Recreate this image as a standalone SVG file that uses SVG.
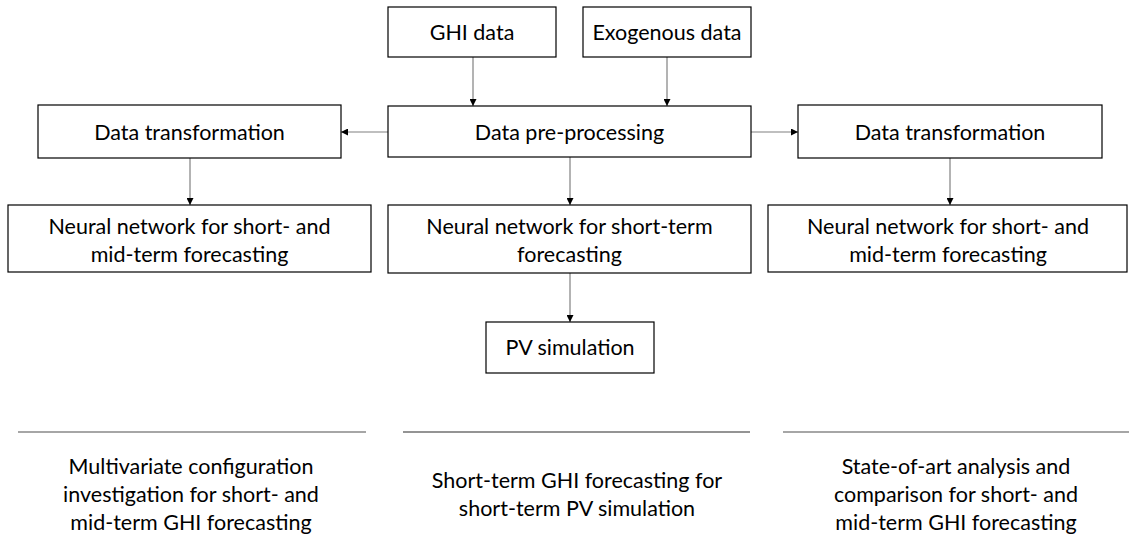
<svg xmlns="http://www.w3.org/2000/svg" width="1129" height="537" viewBox="0 0 1129 537">
<defs>
<marker id="ah" viewBox="0 0 10 10" refX="10" refY="5" markerWidth="7" markerHeight="7" markerUnits="userSpaceOnUse" orient="auto">
<path d="M0,0 L10,5 L0,10 z" fill="#000"/>
</marker>
<style>
.box{fill:#fff;stroke:#000;stroke-width:1.2}
.t{font-family:Lato,"Liberation Sans",sans-serif;font-size:21.5px;fill:#000;text-anchor:middle}
.c{stroke:#808080;stroke-width:1.2;fill:none;marker-end:url(#ah)}
.sep{stroke:#a6a6a6;stroke-width:2}
</style>
</defs>
<rect width="1129" height="537" fill="#fff"/>
<g id="connectors">
<line class="c" x1="473" y1="57" x2="473" y2="106"/>
<line class="c" x1="667" y1="57" x2="667" y2="106"/>
<line class="c" x1="388" y1="132" x2="341" y2="132"/>
<line class="c" x1="751" y1="132" x2="798" y2="132"/>
<line class="c" x1="190" y1="158" x2="190" y2="205"/>
<line class="c" x1="570" y1="157" x2="570" y2="205"/>
<line class="c" x1="950" y1="158" x2="950" y2="205"/>
<line class="c" x1="570" y1="273" x2="570" y2="322"/>
</g>
<g id="ghi"><rect class="box" x="388" y="7" width="168" height="50"/><text class="t" x="472" y="40">GHI data</text></g>
<g id="exo"><rect class="box" x="583" y="7" width="168" height="50"/><text class="t" x="667" y="40">Exogenous data</text></g>
<g id="prep"><rect class="box" x="388" y="106" width="363" height="51"/><text class="t" x="569.5" y="140">Data pre-processing</text></g>
<g id="transL"><rect class="box" x="38" y="105" width="303" height="53"/><text class="t" x="189.5" y="140">Data transformation</text></g>
<g id="transR"><rect class="box" x="798" y="105" width="304" height="53"/><text class="t" x="950" y="140">Data transformation</text></g>
<g id="nnL"><rect class="box" x="8" y="205" width="363" height="67"/><text class="t" x="189.5" y="234">Neural network for short- and</text><text class="t" x="189.5" y="262">mid-term forecasting</text></g>
<g id="nnC"><rect class="box" x="388" y="205" width="363" height="68"/><text class="t" x="569.5" y="234">Neural network for short-term</text><text class="t" x="569.5" y="262">forecasting</text></g>
<g id="nnR"><rect class="box" x="768" y="205" width="359" height="67"/><text class="t" x="948" y="234">Neural network for short- and</text><text class="t" x="948" y="262">mid-term forecasting</text></g>
<g id="pv"><rect class="box" x="486" y="322" width="168" height="51"/><text class="t" x="570" y="355">PV simulation</text></g>
<g id="separators">
<line class="sep" x1="18" y1="432" x2="366" y2="432"/>
<line x1="403" y1="432" x2="750" y2="432" stroke="#707070" stroke-width="1.5"/>
<line class="sep" x1="783" y1="432" x2="1129" y2="432"/>
</g>
<g id="captions">
<text class="t" x="191" y="474">Multivariate configuration</text>
<text class="t" x="191" y="502">investigation for short- and</text>
<text class="t" x="191" y="530">mid-term GHI forecasting</text>
<text class="t" x="577" y="488">Short-term GHI forecasting for</text>
<text class="t" x="577" y="516">short-term PV simulation</text>
<text class="t" x="956" y="474">State-of-art analysis and</text>
<text class="t" x="956" y="502">comparison for short- and</text>
<text class="t" x="956" y="530">mid-term GHI forecasting</text>
</g>
</svg>
